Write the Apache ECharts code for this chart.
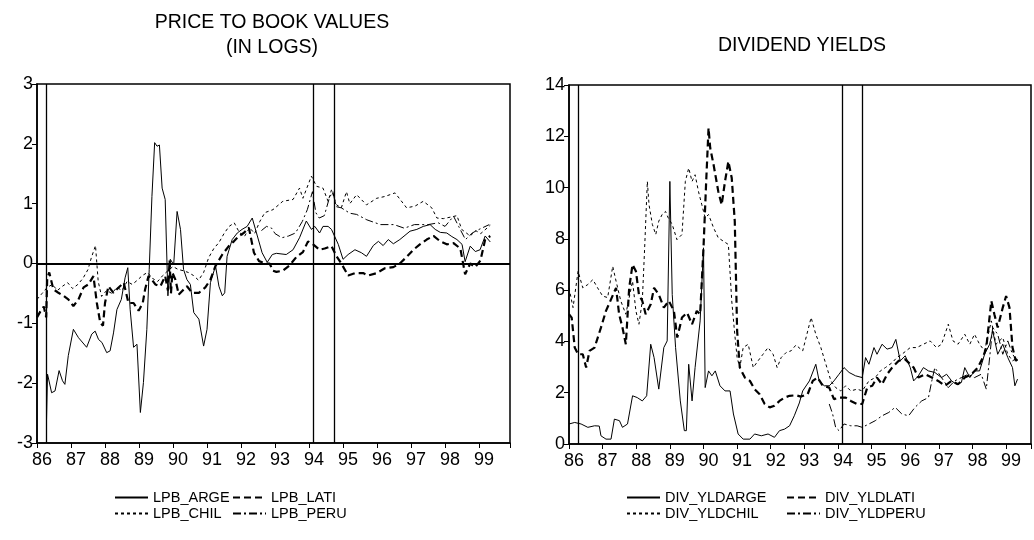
<!DOCTYPE html>
<html>
<head>
<meta charset="utf-8">
<script src="https://cdn.jsdelivr.net/npm/echarts@6/dist/echarts.min.js"></script>
<style>html,body{margin:0;padding:0;background:#fff}#c{width:1034px;height:540px}</style>
</head>
<body>
<div id="c"></div>
<script>
// ---- DATA (decimal year, value) ----
const lpbArge = [[1986.28,-2.6],[1986.31,-1.85],[1986.43,-2.16],[1986.53,-2.13],[1986.65,-1.79],[1986.75,-1.96],[1986.82,-2.02],[1986.92,-1.54],[1987.07,-1.1],[1987.22,-1.24],[1987.46,-1.4],[1987.61,-1.18],[1987.71,-1.13],[1987.81,-1.27],[1987.91,-1.32],[1988.05,-1.49],[1988.15,-1.46],[1988.25,-1.16],[1988.35,-0.77],[1988.48,-0.6],[1988.59,-0.24],[1988.67,-0.07],[1988.74,-0.77],[1988.84,-1.4],[1988.94,-1.35],[1989.04,-2.49],[1989.13,-1.99],[1989.23,-1.1],[1989.3,-0.1],[1989.38,1.12],[1989.46,2.02],[1989.53,1.96],[1989.6,1.98],[1989.68,1.26],[1989.77,1.07],[1989.85,-0.54],[1989.92,0.07],[1990.02,-0.02],[1990.12,0.87],[1990.22,0.57],[1990.31,-0.1],[1990.41,-0.27],[1990.51,-0.35],[1990.61,-0.82],[1990.76,-0.93],[1990.9,-1.38],[1991.0,-1.1],[1991.1,-0.32],[1991.25,-0.04],[1991.35,-0.38],[1991.45,-0.54],[1991.52,-0.49],[1991.59,0.12],[1991.74,0.4],[1991.89,0.51],[1992.03,0.57],[1992.18,0.62],[1992.33,0.76],[1992.48,0.46],[1992.62,0.18],[1992.77,0.02],[1992.92,0.15],[1993.04,0.17],[1993.33,0.15],[1993.53,0.23],[1993.72,0.43],[1993.92,0.71],[1994.07,0.57],[1994.17,0.62],[1994.31,0.51],[1994.41,0.62],[1994.56,0.62],[1994.66,0.57],[1994.86,0.32],[1995.0,0.07],[1995.15,0.15],[1995.35,0.23],[1995.54,0.18],[1995.69,0.12],[1995.89,0.3],[1996.04,0.37],[1996.18,0.3],[1996.33,0.4],[1996.48,0.33],[1996.67,0.4],[1996.97,0.54],[1997.17,0.57],[1997.36,0.62],[1997.56,0.65],[1997.71,0.57],[1997.86,0.52],[1998.05,0.51],[1998.2,0.45],[1998.35,0.4],[1998.5,0.32],[1998.59,0.03],[1998.74,0.29],[1998.89,0.2],[1999.03,0.23],[1999.18,0.46],[1999.33,0.36]];
const lpbLati = [[1986.0,-0.9],[1986.1,-0.8],[1986.2,-0.72],[1986.27,-0.9],[1986.3,-0.25],[1986.36,-0.15],[1986.48,-0.43],[1986.63,-0.49],[1986.78,-0.54],[1986.92,-0.6],[1987.07,-0.71],[1987.22,-0.6],[1987.37,-0.4],[1987.51,-0.35],[1987.66,-0.21],[1987.76,-0.66],[1987.86,-0.99],[1987.94,-1.04],[1988.0,-0.66],[1988.1,-0.38],[1988.25,-0.49],[1988.4,-0.4],[1988.55,-0.32],[1988.69,-0.66],[1988.84,-0.66],[1988.99,-0.79],[1989.11,-0.66],[1989.18,-0.43],[1989.28,-0.21],[1989.38,-0.27],[1989.48,-0.35],[1989.63,-0.38],[1989.77,-0.21],[1989.85,-0.45],[1989.9,0.05],[1989.94,-0.5],[1989.98,-0.15],[1990.07,-0.27],[1990.17,-0.52],[1990.27,-0.46],[1990.41,-0.38],[1990.56,-0.49],[1990.76,-0.49],[1990.95,-0.4],[1991.1,-0.27],[1991.25,-0.04],[1991.45,0.15],[1991.64,0.29],[1991.79,0.37],[1991.94,0.46],[1992.08,0.51],[1992.23,0.6],[1992.38,0.18],[1992.53,0.04],[1992.72,0.0],[1992.84,0.0],[1992.94,-0.12],[1993.04,-0.14],[1993.23,-0.12],[1993.43,-0.03],[1993.63,0.11],[1993.82,0.19],[1993.97,0.37],[1994.12,0.32],[1994.31,0.23],[1994.46,0.25],[1994.66,0.29],[1994.81,0.12],[1994.95,0.0],[1995.15,-0.2],[1995.35,-0.16],[1995.59,-0.16],[1995.74,-0.2],[1995.99,-0.16],[1996.23,-0.08],[1996.48,-0.06],[1996.67,0.0],[1996.87,0.11],[1997.07,0.23],[1997.26,0.32],[1997.46,0.4],[1997.66,0.46],[1997.86,0.37],[1998.05,0.32],[1998.25,0.34],[1998.45,0.25],[1998.59,-0.18],[1998.74,0.0],[1998.89,-0.06],[1999.04,0.05],[1999.18,0.4],[1999.33,0.46]];
const lpbChil = [[1986.0,-0.6],[1986.15,-0.5],[1986.3,-0.4],[1986.45,-0.35],[1986.6,-0.45],[1986.75,-0.38],[1986.9,-0.32],[1987.05,-0.42],[1987.2,-0.35],[1987.35,-0.25],[1987.5,-0.1],[1987.6,0.1],[1987.72,0.3],[1987.8,-0.3],[1987.9,-0.55],[1988.05,-0.45],[1988.2,-0.5],[1988.35,-0.4],[1988.5,-0.45],[1988.65,-0.3],[1988.8,-0.35],[1988.95,-0.28],[1989.1,-0.2],[1989.25,-0.15],[1989.4,-0.25],[1989.55,-0.3],[1989.7,-0.2],[1989.85,-0.12],[1990.0,-0.05],[1990.15,-0.1],[1990.3,-0.12],[1990.45,-0.15],[1990.6,-0.2],[1990.75,-0.28],[1990.9,-0.15],[1991.05,0.1],[1991.2,0.25],[1991.35,0.35],[1991.5,0.5],[1991.65,0.62],[1991.8,0.68],[1991.95,0.52],[1992.1,0.45],[1992.25,0.6],[1992.4,0.5],[1992.55,0.7],[1992.7,0.85],[1992.94,0.9],[1993.23,1.04],[1993.53,1.07],[1993.72,1.26],[1993.82,1.09],[1994.07,1.46],[1994.22,1.29],[1994.41,1.26],[1994.56,1.04],[1994.66,1.23],[1994.81,0.98],[1994.95,0.93],[1995.1,1.2],[1995.2,1.0],[1995.4,1.15],[1995.69,0.98],[1995.99,1.09],[1996.23,1.12],[1996.53,1.18],[1996.87,0.93],[1997.12,0.96],[1997.36,1.04],[1997.61,0.93],[1997.76,0.76],[1997.95,0.75],[1998.2,0.78],[1998.35,0.8],[1998.49,0.57],[1998.74,0.46],[1998.9,0.55],[1999.05,0.5],[1999.33,0.64]];
const lpbPeru = [[1992.6,0.55],[1992.75,0.62],[1992.9,0.59],[1993.0,0.5],[1993.2,0.43],[1993.4,0.46],[1993.6,0.51],[1993.8,0.7],[1993.95,0.9],[1994.1,1.2],[1994.2,0.85],[1994.3,0.76],[1994.45,0.8],[1994.6,1.1],[1994.7,1.2],[1994.8,0.95],[1994.95,0.93],[1995.2,0.84],[1995.4,0.82],[1995.7,0.73],[1996.1,0.65],[1996.5,0.65],[1996.8,0.59],[1997.1,0.65],[1997.5,0.65],[1997.8,0.68],[1998.0,0.62],[1998.25,0.79],[1998.4,0.62],[1998.6,0.4],[1998.8,0.51],[1999.0,0.57],[1999.3,0.65]];

const divArge = [[1986.0,0.78],[1986.17,0.84],[1986.36,0.78],[1986.56,0.65],[1986.76,0.71],[1986.9,0.7],[1986.95,0.32],[1987.1,0.19],[1987.25,0.19],[1987.35,0.97],[1987.5,0.91],[1987.59,0.65],[1987.74,0.78],[1987.89,1.88],[1988.03,1.81],[1988.18,1.68],[1988.31,1.88],[1988.43,3.89],[1988.53,3.37],[1988.67,2.14],[1988.82,3.76],[1988.92,4.02],[1989.0,10.24],[1989.07,5.83],[1989.17,3.76],[1989.31,1.68],[1989.43,0.52],[1989.49,0.52],[1989.56,3.11],[1989.66,1.68],[1989.75,2.98],[1989.9,4.8],[1990.0,7.65],[1990.05,2.2],[1990.15,2.85],[1990.25,2.66],[1990.35,2.85],[1990.49,2.27],[1990.64,2.07],[1990.79,2.07],[1990.89,1.17],[1991.03,0.39],[1991.18,0.19],[1991.38,0.19],[1991.52,0.39],[1991.72,0.32],[1991.92,0.39],[1992.11,0.26],[1992.26,0.52],[1992.41,0.58],[1992.56,0.71],[1992.7,1.1],[1992.85,1.6],[1992.95,2.07],[1993.15,2.46],[1993.34,3.11],[1993.44,2.46],[1993.59,2.27],[1993.74,2.27],[1993.88,2.46],[1994.03,2.72],[1994.18,2.98],[1994.33,2.79],[1994.52,2.66],[1994.72,2.59],[1994.82,3.37],[1994.92,3.11],[1995.07,3.76],[1995.16,3.5],[1995.31,3.89],[1995.46,3.7],[1995.61,3.76],[1995.72,4.08],[1995.85,3.24],[1996.0,3.44],[1996.15,2.98],[1996.25,2.46],[1996.39,2.66],[1996.54,2.98],[1996.69,2.85],[1996.88,2.79],[1997.08,2.59],[1997.23,2.72],[1997.38,2.46],[1997.52,2.33],[1997.67,2.4],[1997.77,2.98],[1997.92,2.59],[1998.06,2.85],[1998.21,2.85],[1998.36,3.5],[1998.51,3.89],[1998.6,4.41],[1998.75,3.5],[1998.9,3.89],[1999.05,3.37],[1999.19,2.98],[1999.26,2.27],[1999.34,2.53]];
const divLati = [[1986.0,5.06],[1986.08,4.93],[1986.17,3.76],[1986.27,3.5],[1986.41,3.5],[1986.51,2.98],[1986.61,3.63],[1986.76,3.76],[1986.95,4.54],[1987.1,5.19],[1987.25,5.64],[1987.4,6.09],[1987.49,5.06],[1987.59,4.54],[1987.69,3.89],[1987.79,6.09],[1987.89,7.0],[1987.99,6.74],[1988.08,5.83],[1988.18,5.58],[1988.28,5.06],[1988.43,5.45],[1988.53,6.09],[1988.67,5.83],[1988.82,5.32],[1988.97,5.58],[1989.12,5.19],[1989.22,4.15],[1989.36,4.93],[1989.51,5.12],[1989.66,4.67],[1989.8,5.19],[1989.9,5.06],[1990.0,7.65],[1990.08,10.24],[1990.15,12.32],[1990.2,11.54],[1990.3,10.89],[1990.44,9.85],[1990.54,9.33],[1990.64,10.24],[1990.74,11.02],[1990.84,10.37],[1990.93,8.69],[1991.0,4.41],[1991.08,2.98],[1991.23,2.59],[1991.38,2.46],[1991.52,2.14],[1991.67,1.94],[1991.82,1.56],[1991.97,1.43],[1992.11,1.49],[1992.26,1.68],[1992.41,1.81],[1992.56,1.88],[1992.75,1.9],[1992.9,1.85],[1993.1,1.95],[1993.25,2.46],[1993.39,2.59],[1993.55,2.27],[1993.74,2.2],[1993.88,1.75],[1994.03,1.81],[1994.23,1.81],[1994.38,1.68],[1994.57,1.56],[1994.72,1.56],[1994.87,2.2],[1995.02,2.27],[1995.16,2.59],[1995.31,2.33],[1995.46,2.72],[1995.61,2.98],[1995.8,3.24],[1996.0,3.3],[1996.25,2.98],[1996.39,2.59],[1996.59,2.72],[1996.79,2.59],[1996.98,2.46],[1997.18,2.27],[1997.38,2.46],[1997.57,2.33],[1997.77,2.59],[1997.97,2.72],[1998.16,2.98],[1998.31,3.37],[1998.41,3.76],[1998.56,5.58],[1998.65,5.06],[1998.75,4.54],[1998.9,5.32],[1999.0,5.77],[1999.1,5.32],[1999.19,3.76],[1999.29,3.24],[1999.34,3.37]];
const divChil = [[1986.0,6.09],[1986.12,5.32],[1986.27,6.74],[1986.41,6.09],[1986.56,6.22],[1986.71,6.41],[1986.85,6.09],[1987.0,5.77],[1987.15,5.71],[1987.3,6.93],[1987.4,6.35],[1987.54,5.58],[1987.69,5.06],[1987.79,5.71],[1987.89,6.35],[1987.99,5.19],[1988.08,4.67],[1988.18,5.58],[1988.25,7.65],[1988.33,10.24],[1988.38,9.33],[1988.48,8.56],[1988.58,8.17],[1988.67,8.69],[1988.77,8.95],[1988.87,9.07],[1988.95,8.82],[1989.07,8.56],[1989.21,7.97],[1989.36,8.17],[1989.46,10.24],[1989.56,10.76],[1989.66,10.24],[1989.75,10.5],[1989.85,9.85],[1989.95,9.33],[1990.05,8.82],[1990.15,8.95],[1990.3,8.43],[1990.44,8.04],[1990.59,7.91],[1990.74,7.78],[1990.84,5.58],[1990.93,4.28],[1991.0,3.37],[1991.08,2.98],[1991.18,3.76],[1991.33,3.89],[1991.48,2.98],[1991.62,3.24],[1991.77,3.5],[1991.92,3.76],[1992.07,3.5],[1992.19,2.98],[1992.31,3.37],[1992.46,3.57],[1992.6,3.63],[1992.75,3.86],[1992.95,3.63],[1993.1,4.41],[1993.2,4.93],[1993.34,4.28],[1993.49,3.76],[1993.64,3.11],[1993.79,2.46],[1993.93,2.2],[1994.08,2.07],[1994.23,2.27],[1994.38,2.07],[1994.57,2.14],[1994.72,2.07],[1994.92,2.46],[1995.11,2.59],[1995.26,2.85],[1995.41,2.98],[1995.61,3.17],[1995.75,3.37],[1995.9,3.5],[1996.15,3.76],[1996.34,3.76],[1996.54,3.89],[1996.74,4.02],[1996.93,3.76],[1997.08,3.89],[1997.28,4.67],[1997.42,4.02],[1997.57,3.89],[1997.77,4.28],[1997.92,3.89],[1998.06,4.28],[1998.21,3.89],[1998.36,3.63],[1998.56,4.8],[1998.7,3.89],[1998.9,4.15],[1999.05,3.5],[1999.19,3.24],[1999.34,3.37]];
const divPeru = [[1993.74,1.56],[1993.84,1.17],[1993.93,0.65],[1994.03,0.52],[1994.18,0.78],[1994.38,0.71],[1994.57,0.71],[1994.72,0.65],[1994.92,0.78],[1995.11,0.91],[1995.31,1.1],[1995.51,1.23],[1995.7,1.43],[1995.9,1.17],[1996.1,1.1],[1996.29,1.43],[1996.49,1.68],[1996.69,1.81],[1996.79,2.46],[1996.88,2.98],[1997.08,2.59],[1997.28,2.2],[1997.47,2.46],[1997.67,2.59],[1997.87,2.72],[1998.06,2.59],[1998.26,2.72],[1998.41,2.14],[1998.51,3.37],[1998.6,4.54],[1998.75,4.28],[1998.9,3.5],[1999.05,4.02],[1999.19,3.5],[1999.34,3.24]];

const eventLines = [1986.28, 1994.13, 1994.73];
const namesLeft = ['LPB_ARGE', 'LPB_LATI', 'LPB_CHIL', 'LPB_PERU'];
const namesRight = ['DIV_YLDARGE', 'DIV_YLDLATI', 'DIV_YLDCHIL', 'DIV_YLDPERU'];
const titleLeft = 'PRICE TO BOOK VALUES\n(IN LOGS)';
const titleRight = 'DIVIDEND YIELDS';

// ---- STYLES ----
const FONT = "'Liberation Sans', Arial, sans-serif";
const styles = [
  {width: 1, type: 'solid'},
  {width: 2.2, type: [7, 4]},
  {width: 1, type: [3, 3]},
  {width: 1, type: [8, 3, 2, 3]}
];

function mkSeries(name, data, idx, gi, mark) {
  const s = {
    type: 'line', name, data, xAxisIndex: gi, yAxisIndex: gi,
    symbol: 'none', showSymbol: false, animation: false, silent: true,
    lineStyle: Object.assign({color: '#000'}, styles[idx]),
    itemStyle: {color: '#000'}
  };
  if (mark) s.markLine = mark;
  return s;
}
function markFor(withZero) {
  const d = eventLines.map(v => ({xAxis: v}));
  if (withZero) d.push({yAxis: 0, lineStyle: {width: 2}});
  return {symbol: 'none', silent: true, animation: false, label: {show: false},
    lineStyle: {color: '#000', width: 1.3, type: 'solid'}, data: d};
}

function xAxisCfg(gi, max) {
  return {
    gridIndex: gi, type: 'value', min: 1986, max: max, interval: 1,
    axisLine: {show: true, onZero: false, lineStyle: {color: '#000', width: 1.5}},
    axisTick: {show: true, length: 5, lineStyle: {color: '#000'}},
    axisLabel: {color: '#000', fontSize: 18, fontFamily: FONT, margin: 8, padding: [0, 0, 0, 10],
      formatter: v => Math.abs(v - Math.round(v)) < 1e-6 ? String(Math.round(v)).slice(2) : ''},
    splitLine: {show: false}
  };
}
function yAxisCfg(gi, min, max, interval) {
  return {
    gridIndex: gi, type: 'value', min, max, interval,
    axisLine: {show: true, lineStyle: {color: '#000', width: 1.5}},
    axisTick: {show: true, length: 5, lineStyle: {color: '#000'}},
    axisLabel: {color: '#000', fontSize: 18, fontFamily: FONT, margin: 4},
    splitLine: {show: false}
  };
}
function legendCfg(name, left, top) {
  return {data: [name], left, top, itemWidth: 33, itemHeight: 12, padding: 0,
    itemStyle: {color: 'rgba(0,0,0,0)', borderColor: 'rgba(0,0,0,0)', borderWidth: 0, opacity: 0},
    textStyle: {color: '#000', fontSize: 14.5, fontFamily: FONT}, selectedMode: false};
}

const chart = echarts.init(document.getElementById('c'), null, {renderer: 'canvas'});
chart.setOption({
  backgroundColor: '#fff',
  animation: false,
  title: [
    {text: titleLeft, left: 267, top: 5, textAlign: 'center',
      textStyle: {color: '#000', fontSize: 19.5, fontWeight: 'normal', fontFamily: FONT, lineHeight: 25}},
    {text: titleRight, left: 797, top: 31, textAlign: 'center',
      textStyle: {color: '#000', fontSize: 19.5, fontWeight: 'normal', fontFamily: FONT}}
  ],
  grid: [
    {left: 37, top: 84, width: 473, height: 359, show: true, borderColor: '#000', borderWidth: 1.5, backgroundColor: 'transparent'},
    {left: 569, top: 85, width: 466, height: 359, show: true, borderColor: '#000', borderWidth: 1.5, backgroundColor: 'transparent'}
  ],
  xAxis: [xAxisCfg(0, 1999.91), xAxisCfg(1, 1999.74)],
  yAxis: [yAxisCfg(0, -3, 3, 1), yAxisCfg(1, 0, 14, 2)],
  legend: [
    legendCfg(namesLeft[0], 114, 490), legendCfg(namesLeft[1], 232, 490),
    legendCfg(namesLeft[2], 114, 506), legendCfg(namesLeft[3], 232, 506),
    legendCfg(namesRight[0], 626, 490), legendCfg(namesRight[1], 786, 490),
    legendCfg(namesRight[2], 626, 506), legendCfg(namesRight[3], 786, 506)
  ],
  series: [
    mkSeries(namesLeft[0], lpbArge, 0, 0, markFor(true)),
    mkSeries(namesLeft[1], lpbLati, 1, 0),
    mkSeries(namesLeft[2], lpbChil, 2, 0),
    mkSeries(namesLeft[3], lpbPeru, 3, 0),
    mkSeries(namesRight[0], divArge, 0, 1, markFor(false)),
    mkSeries(namesRight[1], divLati, 1, 1),
    mkSeries(namesRight[2], divChil, 2, 1),
    mkSeries(namesRight[3], divPeru, 3, 1)
  ]
});
</script>
</body>
</html>
